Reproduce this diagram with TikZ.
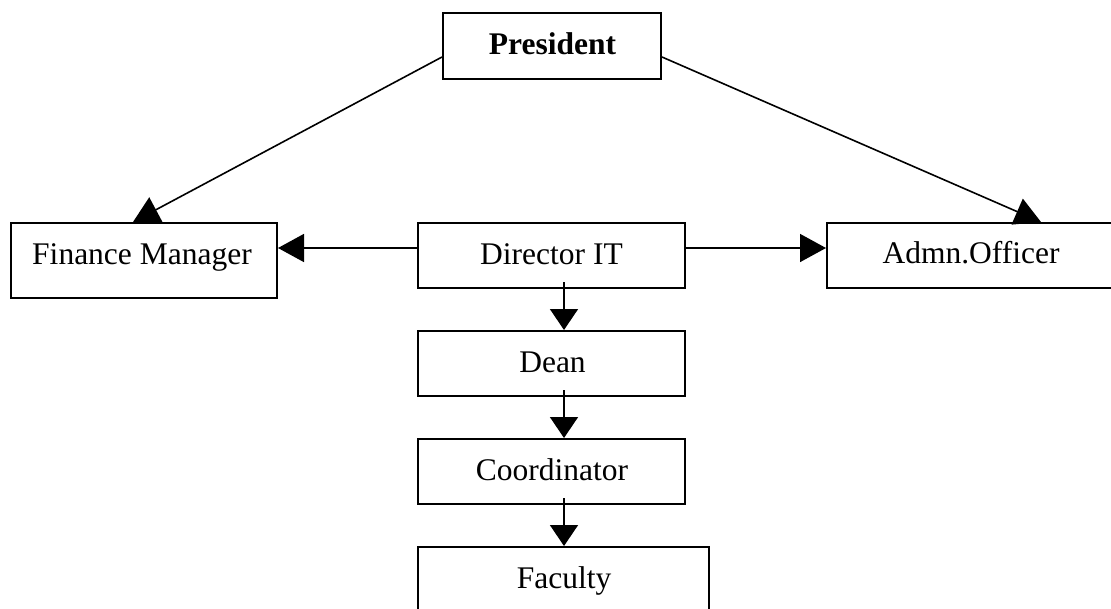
\documentclass[tikz,border=0pt]{standalone}
\usepackage{fontspec}
\setmainfont{Liberation Serif}
\usetikzlibrary{arrows.meta,calc}
\tikzset{
  box/.style={draw, line width=2pt, rectangle, inner sep=0pt},
  lbl/.style={anchor=base, inner sep=0pt, font=\fontsize{31.5}{36}\selectfont},
  conn/.style={line width=1.6pt, -{Triangle[length=26pt,width=28pt]}},
  vconn/.style={line width=1.6pt, -{Triangle[length=21pt,width=28pt]}}
}
\begin{document}
\begin{tikzpicture}[x=1pt,y=-1pt]
\useasboundingbox (0,0) rectangle (1111,608);
\clip (0,0) rectangle (1111,608);
% boxes
\node[box, minimum width=218pt, minimum height=66pt] (pres) at (552,46) {};
\node[box, minimum width=266pt, minimum height=75pt] (fin) at (144,260.5) {};
\node[box, minimum width=267pt, minimum height=65pt] (dir) at (551.5,255.5) {};
\node[box, minimum width=288pt, minimum height=65pt] (adm) at (971,255.5) {};
\node[box, minimum width=267pt, minimum height=65pt] (dean) at (551.5,363.5) {};
\node[box, minimum width=267pt, minimum height=65pt] (coord) at (551.5,471.5) {};
\node[box, minimum width=291pt, minimum height=65pt] (fac) at (563.5,579.5) {};
% labels
\node[lbl] (presT) at (552.5,54) {\textbf{President}};
\node[lbl] (finT) at (142,264) {Finance Manager};
\node[lbl] (dirT) at (551.5,264) {Director IT};
\node[lbl] (admT) at (971,263) {Admn.Officer};
\node[lbl] (deanT) at (552.5,372.5) {Dean};
\node[lbl] (coordT) at (552,480) {Coordinator};
\node[lbl] (facT) at (564,588) {Faculty};
% connectors
\draw[conn] ($(pres.west)+(0,11)$) -- ($(fin.north west)+(123,0)$);
\draw[conn] ($(pres.east)+(0,11)$) -- ($(adm.north west)+(215,0)$);
\draw[conn] ($(dir.west)+(0,-7.5)$) -- ($(fin.east)+(0,-12.5)$);
\draw[conn] ($(dir.east)+(0,-7.5)$) -- ($(adm.west)+(0,-7.5)$);
\draw[vconn] ($(dir.south)+(12.5,-7)$) -- ($(dean.north)+(12.5,0)$);
\draw[vconn] ($(dean.south)+(12.5,-7)$) -- ($(coord.north)+(12.5,0)$);
\draw[vconn] ($(coord.south)+(12.5,-7)$) -- ($(fac.north)+(0.5,0)$);
\end{tikzpicture}
\end{document}
